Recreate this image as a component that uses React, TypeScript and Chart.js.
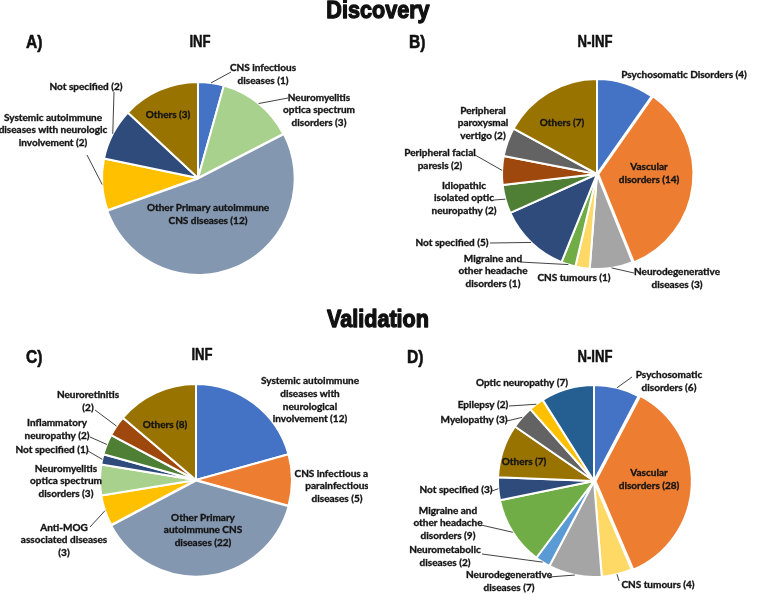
import React, { useEffect, useRef } from "react";
import { Chart, registerables } from "chart.js";
Chart.register(...registerables);

const W = 784;
const H = 594;

// ---------- Data ----------
// A) Discovery – INF
const catsA = [
  "CNS infectious\ndiseases",
  "Neuromyelitis\noptica spectrum\ndisorders",
  "Other Primary autoimmune\nCNS diseases",
  "Systemic autoimmune\ndiseases with neurologic\ninvolvement",
  "Not specified",
  "Others",
];
const valsA = [1, 3, 12, 2, 2, 3];
const colorsA = ["#4472C4", "#A9D18E", "#8497B0", "#FFC000", "#2F4B7C", "#997300"];

// B) Discovery – N-INF
const catsB = [
  "Psychosomatic Disorders",
  "Vascular\ndisorders",
  "Neurodegenerative\ndiseases",
  "CNS tumours",
  "Migraine and\nother headache\ndisorders",
  "Not specified",
  "Idiopathic\nisolated optic\nneuropathy",
  "Peripheral facial\nparesis",
  "Peripheral\nparoxysmal\nvertigo",
  "Others",
];
const valsB = [4, 14, 3, 1, 1, 5, 2, 2, 2, 7];
const colorsB = ["#4472C4", "#ED7D31", "#A5A5A5", "#FFD966", "#70AD47", "#2F4B7C", "#4E7F35", "#9E480E", "#636363", "#997300"];

// C) Validation – INF
const catsC = [
  "Systemic autoimmune\ndiseases with\nneurological\ninvolvement",
  "CNS infectious and\nparainfectious\ndiseases",
  "Other Primary\nautoimmune CNS\ndiseases",
  "Anti-MOG\nassociated diseases\n",
  "Neuromyelitis\noptica spectrum\ndisorders",
  "Not specified",
  "Inflammatory\nneuropathy",
  "Neuroretinitis\n",
  "Others",
];
const valsC = [12, 5, 22, 3, 3, 1, 2, 2, 8];
const colorsC = ["#4472C4", "#ED7D31", "#8497B0", "#FFC000", "#A9D18E", "#2F4B7C", "#4E7F35", "#9E480E", "#997300"];

// D) Validation – N-INF
const catsD = [
  "Psychosomatic\ndisorders",
  "Vascular\ndisorders",
  "CNS tumours",
  "Neurodegenerative\ndiseases",
  "Neurometabolic\ndiseases",
  "Migraine and\nother headache\ndisorders",
  "Not specified",
  "Others",
  "Myelopathy",
  "Epilepsy",
  "Optic neuropathy",
];
const valsD = [6, 28, 4, 7, 2, 9, 3, 7, 3, 2, 7];
const colorsD = ["#4472C4", "#ED7D31", "#FFD966", "#A5A5A5", "#5B9BD5", "#70AD47", "#2F4B7C", "#997300", "#636363", "#FFC000", "#255E91"];

// ---------- Layout (positions only) ----------
type P = [number, number];
interface Cfg {
  key: string;
  cats: string[];
  vals: number[];
  colors: string[];
  offsets: number[];
  cx: number;
  cy: number;
  r: number;
  letter: string;
  letterPos: P;
  title: string;
  titlePos: P;
  heading?: { text: string; pos: P };
  pos: P[];
  leaders: (P | null)[];
  clipRight?: number;
}

const cfgs: Cfg[] = [
  {
    key: "A",
    cats: catsA,
    vals: valsA,
    colors: colorsA,
    offsets: [0, 0, 2, 0, 0, 0],
    cx: 198,
    cy: 178,
    r: 96,
    letter: "A)",
    letterPos: [26, 43],
    title: "INF",
    titlePos: [200, 43],
    heading: { text: "Discovery", pos: [378, 11] },
    pos: [[263, 74], [319, 110], [208, 214], [53, 130], [86, 87], [168, 115]],
    leaders: [[231, 72], [288, 98], null, [87, 155], [114, 92], null],
  },
  {
    key: "B",
    cats: catsB,
    vals: valsB,
    colors: colorsB,
    offsets: [0, 5, 0, 0, 0, 0, 0, 0, 0, 0],
    cx: 597,
    cy: 174,
    r: 95,
    letter: "B)",
    letterPos: [409, 43],
    title: "N-INF",
    titlePos: [595, 43],
    pos: [[684, 75], [649, 173], [677, 278], [574, 278], [493, 271], [452, 243], [464, 198], [440, 159], [483, 123], [562, 123]],
    leaders: [null, null, [634, 273], null, [520, 262], [490, 243], [494, 200], [475, 155], null, null],
  },
  {
    key: "C",
    cats: catsC,
    vals: valsC,
    colors: colorsC,
    offsets: [0, 0, 2, 0, 0, 0, 0, 0, 0],
    cx: 196,
    cy: 480,
    r: 96,
    letter: "C)",
    letterPos: [26, 358],
    title: "INF",
    titlePos: [202, 356],
    heading: { text: "Validation", pos: [378, 320] },
    pos: [[310, 400], [337, 486], [203, 530], [64, 540], [66, 481], [52, 450], [57, 429], [88, 401], [165, 425]],
    leaders: [null, null, null, [90, 527], null, [88, 451], [90, 437], [95, 410], null],
    clipRight: 368,
  },
  {
    key: "D",
    cats: catsD,
    vals: valsD,
    colors: colorsD,
    offsets: [0, 6, 0, 0, 0, 0, 0, 0, 0, 0, 0],
    cx: 594,
    cy: 481,
    r: 96,
    letter: "D)",
    letterPos: [407, 358],
    title: "N-INF",
    titlePos: [595, 358],
    pos: [[669, 381], [649, 479], [658, 585], [509, 581], [445, 556], [448, 523], [456, 490], [524, 462], [474, 420], [483, 405], [522, 383]],
    leaders: [[632, 377], null, [619, 581], [549, 577], [482, 554], [481, 525], [492, 491], null, [507, 421], [509, 406], null],
  },
];

const LABEL_FONT = 'bold 10px Lato, "Noto Sans", sans-serif';
const LINE_H = 12.7;
const TEXT_COLOR = "#141414";

function labelText(cat: string, v: number) {
  return cat + (cat.endsWith("\n") ? "" : " ") + "(" + v + ")";
}

function drawScaled(
  ctx: CanvasRenderingContext2D,
  text: string,
  x: number,
  y: number,
  font: string,
  align: CanvasTextAlign,
  sx: number,
  stroke: number
) {
  ctx.save();
  ctx.translate(x, y);
  ctx.scale(sx, 1);
  ctx.font = font;
  ctx.textAlign = align;
  ctx.textBaseline = "middle";
  ctx.fillStyle = "#111";
  ctx.fillText(text, 0, 0);
  if (stroke > 0) {
    ctx.strokeStyle = "#111";
    ctx.lineWidth = stroke;
    ctx.lineJoin = "round";
    ctx.strokeText(text, 0, 0);
  }
  ctx.restore();
}

function makePlugin(cfg: Cfg) {
  return {
    id: "pieLabels" + cfg.key,
    afterDatasetsDraw(chart: any) {
      const ctx: CanvasRenderingContext2D = chart.ctx;
      ctx.save();
      if (cfg.heading) {
        drawScaled(ctx, cfg.heading.text, cfg.heading.pos[0], cfg.heading.pos[1], 'bold 24px "Liberation Sans", Arial, sans-serif', "center", 0.9, 1.3);
      }
      drawScaled(ctx, cfg.letter, cfg.letterPos[0], cfg.letterPos[1], 'bold 19px "Liberation Sans", Arial, sans-serif', "left", 0.82, 0.6);
      drawScaled(ctx, cfg.title, cfg.titlePos[0], cfg.titlePos[1], 'bold 16px "Liberation Sans", Arial, sans-serif', "center", 0.82, 0.5);

      if (cfg.clipRight) {
        ctx.beginPath();
        ctx.rect(0, 0, cfg.clipRight, H);
        ctx.clip();
      }
      const meta = chart.getDatasetMeta(0);
      meta.data.forEach((arc: any, i: number) => {
        const p = arc.getProps(["x", "y", "startAngle", "endAngle", "outerRadius"], true);
        const mid = (p.startAngle + p.endAngle) / 2;
        const lead = cfg.leaders[i];
        if (lead) {
          const ex = p.x + Math.cos(mid) * p.outerRadius;
          const ey = p.y + Math.sin(mid) * p.outerRadius;
          ctx.beginPath();
          ctx.moveTo(lead[0], lead[1]);
          ctx.lineTo(ex, ey);
          ctx.strokeStyle = "#2E2E2E";
          ctx.lineWidth = 0.9;
          ctx.stroke();
        }
        const lines = labelText(cfg.cats[i], cfg.vals[i]).split("\n");
        const [lx, ly] = cfg.pos[i];
        ctx.font = LABEL_FONT;
        ctx.fillStyle = TEXT_COLOR;
        ctx.strokeStyle = TEXT_COLOR;
        ctx.lineWidth = 0.35;
        ctx.textAlign = "center";
        ctx.textBaseline = "middle";
        lines.forEach((ln, k) => {
          const yy = ly + (k - (lines.length - 1) / 2) * LINE_H;
          ctx.fillText(ln, lx, yy);
          ctx.strokeText(ln, lx, yy);
        });
      });
      ctx.restore();
    },
  };
}

function PieCanvas({ cfg }: { cfg: Cfg }) {
  const ref = useRef<HTMLCanvasElement>(null);
  useEffect(() => {
    if (!ref.current) return;
    const box = 100;
    const chart = new Chart(ref.current, {
      type: "pie",
      data: {
        labels: cfg.cats.map((c) => c.replace(/\n/g, " ").trim()),
        datasets: [
          {
            data: cfg.vals,
            backgroundColor: cfg.colors,
            borderColor: "#FFFFFF",
            borderWidth: 2,
            offset: cfg.offsets,
            radius: cfg.r,
          } as any,
        ],
      },
      options: {
        animation: false,
        responsive: false,
        devicePixelRatio: 1,
        events: [],
        layout: {
          padding: {
            left: cfg.cx - box,
            right: W - cfg.cx - box,
            top: cfg.cy - box,
            bottom: H - cfg.cy - box,
          },
        },
        plugins: {
          legend: { display: false },
          tooltip: { enabled: false },
          title: { display: false },
        },
      },
      plugins: [makePlugin(cfg)],
    });
    return () => chart.destroy();
  }, [cfg]);
  return (
    <canvas
      ref={ref}
      width={W}
      height={H}
      style={{ position: "absolute", left: 0, top: 0, width: W, height: H, pointerEvents: "none" }}
    />
  );
}

export default function App() {
  useEffect(() => {
    document.body.style.margin = "0";
  }, []);
  return (
    <div style={{ position: "absolute", left: 0, top: 0, width: W, height: H, background: "#FFFFFF", overflow: "hidden" }}>
      {cfgs.map((c) => (
        <PieCanvas key={c.key} cfg={c} />
      ))}
    </div>
  );
}
